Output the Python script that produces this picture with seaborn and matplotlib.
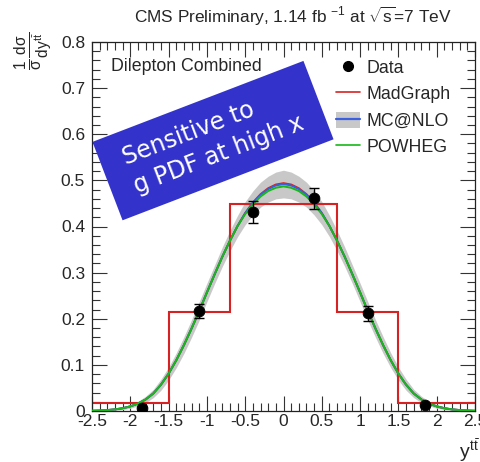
import numpy as np
import matplotlib
matplotlib.use('Agg')
import matplotlib.pyplot as plt
import seaborn as sns
from matplotlib.lines import Line2D
from matplotlib.patches import Patch, Rectangle
from matplotlib.ticker import MultipleLocator, FixedLocator, FixedFormatter
from matplotlib.transforms import Affine2D

# rapidity grid of the theory curves
y_grid = np.round(np.arange(-25, 26) / 10.0, 1)

madgraph = [0.0005, 0.001, 0.002, 0.0035, 0.006, 0.010, 0.016, 0.025, 0.038, 0.057,
            0.081, 0.110, 0.143, 0.179, 0.217, 0.257, 0.296, 0.334, 0.369, 0.401,
            0.429, 0.452, 0.470, 0.483, 0.491, 0.494, 0.491, 0.483, 0.470, 0.452,
            0.429, 0.401, 0.369, 0.334, 0.296, 0.257, 0.217, 0.179, 0.143, 0.110,
            0.081, 0.057, 0.038, 0.025, 0.016, 0.010, 0.006, 0.0035, 0.002, 0.001, 0.0005]
mcatnlo = [0.0005, 0.001, 0.002, 0.0035, 0.006, 0.010, 0.016, 0.025, 0.038, 0.057,
           0.081, 0.110, 0.143, 0.179, 0.217, 0.257, 0.296, 0.334, 0.369, 0.401,
           0.429, 0.451, 0.469, 0.481, 0.489, 0.492, 0.489, 0.481, 0.469, 0.451,
           0.429, 0.401, 0.369, 0.334, 0.296, 0.257, 0.217, 0.179, 0.143, 0.110,
           0.081, 0.057, 0.038, 0.025, 0.016, 0.010, 0.006, 0.0035, 0.002, 0.001, 0.0005]
mcatnlo_err = [0.0005, 0.001, 0.0015, 0.002, 0.003, 0.004, 0.005, 0.007, 0.009, 0.012,
               0.014, 0.016, 0.018, 0.019, 0.020, 0.020, 0.020, 0.021, 0.022, 0.023,
               0.025, 0.026, 0.027, 0.028, 0.029, 0.030, 0.029, 0.028, 0.027, 0.026,
               0.025, 0.023, 0.022, 0.021, 0.020, 0.020, 0.020, 0.019, 0.018, 0.016,
               0.014, 0.012, 0.009, 0.007, 0.005, 0.004, 0.003, 0.002, 0.0015, 0.001, 0.0005]
powheg = [0.0005, 0.001, 0.002, 0.0035, 0.006, 0.010, 0.016, 0.025, 0.038, 0.057,
          0.081, 0.110, 0.143, 0.179, 0.217, 0.257, 0.296, 0.334, 0.369, 0.401,
          0.427, 0.448, 0.465, 0.477, 0.484, 0.487, 0.484, 0.477, 0.465, 0.448,
          0.427, 0.401, 0.369, 0.334, 0.296, 0.257, 0.217, 0.179, 0.143, 0.110,
          0.081, 0.057, 0.038, 0.025, 0.016, 0.010, 0.006, 0.0035, 0.002, 0.001, 0.0005]

# binned MadGraph prediction
bin_edges = [-2.5, -1.5, -0.7, 0.7, 1.5, 2.5]
bin_values = [0.018, 0.215, 0.448, 0.215, 0.018]

# measured points
data_x = [-1.85, -1.1, -0.4, 0.4, 1.1, 1.85]
data_y = [0.006, 0.217, 0.431, 0.461, 0.212, 0.013]
data_err = [0.003, 0.016, 0.024, 0.022, 0.016, 0.003]

x_ticks = [-2.5, -2, -1.5, -1, -0.5, 0, 0.5, 1, 1.5, 2, 2.5]
x_ticklabels = ['-2.5', '-2', '-1.5', '-1', '-0.5', '0', '0.5', '1', '1.5', '2', '2.5']
y_ticks = [0, 0.1, 0.2, 0.3, 0.4, 0.5, 0.6, 0.7, 0.8]
y_ticklabels = ['0', '0.1', '0.2', '0.3', '0.4', '0.5', '0.6', '0.7', '0.8']

sns.set_style('ticks')
plt.rcParams['font.family'] = ['Liberation Sans', 'DejaVu Sans']
plt.rcParams['mathtext.fontset'] = 'custom'
plt.rcParams['mathtext.rm'] = 'Liberation Sans'
plt.rcParams['mathtext.it'] = 'Liberation Sans'
plt.rcParams['mathtext.bf'] = 'Liberation Sans:bold'
plt.rcParams['axes.unicode_minus'] = False

fig = plt.figure(figsize=(4.81, 4.62), dpi=100)
ax = fig.add_axes([92 / 481, 1 - 411 / 462, 383 / 481, 369 / 462])

red = '#d62222'
blue = '#3a5fe0'
green = '#18b818'
band = '#c8c8c8'

ax.fill_between(y_grid, np.array(mcatnlo) - np.array(mcatnlo_err),
                np.array(mcatnlo) + np.array(mcatnlo_err), color=band, lw=0, zorder=1)
ax.stairs(bin_values, bin_edges, baseline=None, color=red, lw=1.5, zorder=2)
sns.lineplot(x=y_grid, y=madgraph, color=red, lw=1.4, ax=ax, zorder=3)
sns.lineplot(x=y_grid, y=mcatnlo, color=blue, lw=1.4, ax=ax, zorder=4)
sns.lineplot(x=y_grid, y=powheg, color=green, lw=1.4, ax=ax, zorder=5)
ax.errorbar(data_x, data_y, yerr=data_err, fmt='none', ecolor='black', elinewidth=1,
            capsize=3.5, capthick=1, zorder=6)
sns.scatterplot(x=data_x, y=data_y, color='black', s=60, edgecolor='black', ax=ax, zorder=7)

ax.set_xlim(-2.5, 2.5)
ax.set_ylim(0, 0.8)
ax.xaxis.set_major_locator(FixedLocator(x_ticks))
ax.xaxis.set_major_formatter(FixedFormatter(x_ticklabels))
ax.yaxis.set_major_locator(FixedLocator(y_ticks))
ax.yaxis.set_major_formatter(FixedFormatter(y_ticklabels))
ax.xaxis.set_minor_locator(MultipleLocator(0.1))
ax.yaxis.set_minor_locator(MultipleLocator(0.02))
ax.tick_params(which='both', direction='in', top=True, right=True, width=0.8, color='#333333')
ax.tick_params(which='major', length=11, labelsize=12.5)
ax.tick_params(which='minor', length=5.5)
ax.tick_params(axis='x', pad=2)
ax.tick_params(axis='y', pad=5)
for s in ax.spines.values():
    s.set_linewidth(0.9)
    s.set_color('#222222')
ax.set_xlabel('')
ax.set_ylabel('')

ax.text(0.049, 0.933, 'Dilepton Combined', transform=ax.transAxes, fontsize=12.8,
        ha='left', va='center')

handles = [Line2D([], [], color='black', marker='o', ls='none', markersize=7),
           Line2D([], [], color=red, lw=1.2),
           (Patch(facecolor=band, edgecolor='none'), Line2D([], [], color=blue, lw=1.6)),
           Line2D([], [], color=green, lw=1.2)]
ax.legend(handles, ['Data', 'MadGraph', 'MC@NLO', 'POWHEG'], loc='upper left',
          bbox_to_anchor=(0.637, 0.955), frameon=False, fontsize=12.8, handlelength=1.35,
          handleheight=1.0, handletextpad=0.35, labelspacing=0.48, borderpad=0,
          borderaxespad=0)

fig.text(452 / 481, 1 - 16 / 462, r'CMS Preliminary, 1.14 fb $^{-1}$ at $\sqrt{s}$=7 TeV',
         ha='right', va='center', fontsize=12.4)
fig.text(480 / 481, 1 - 458 / 462, r'$y^{t\bar{t}}$', ha='right', va='baseline', fontsize=14)
fig.text(33 / 481, 1 - 32 / 462, r'$\frac{1}{\sigma}\frac{d\sigma}{dy^{t\bar{t}}}$',
         rotation=90, ha='center', va='top', fontsize=16)

# annotation box, drawn in pixel coordinates
cx, cy = 213, 462 - 140.6
box = Rectangle((cx - 113, cy - 42), 226, 84, facecolor='#3333cc', edgecolor='none',
                transform=Affine2D().rotate_deg_around(cx, cy, 21), zorder=10)
fig.add_artist(box)
fig.text(cx / 481, cy / 462, 'Sensitive to\ng PDF at high x', family='DejaVu Sans',
         color='white', fontsize=17, rotation=21, rotation_mode='anchor',
         ha='center', va='center', multialignment='left', linespacing=1.35, zorder=11)

fig.savefig('out.png', dpi=100)
